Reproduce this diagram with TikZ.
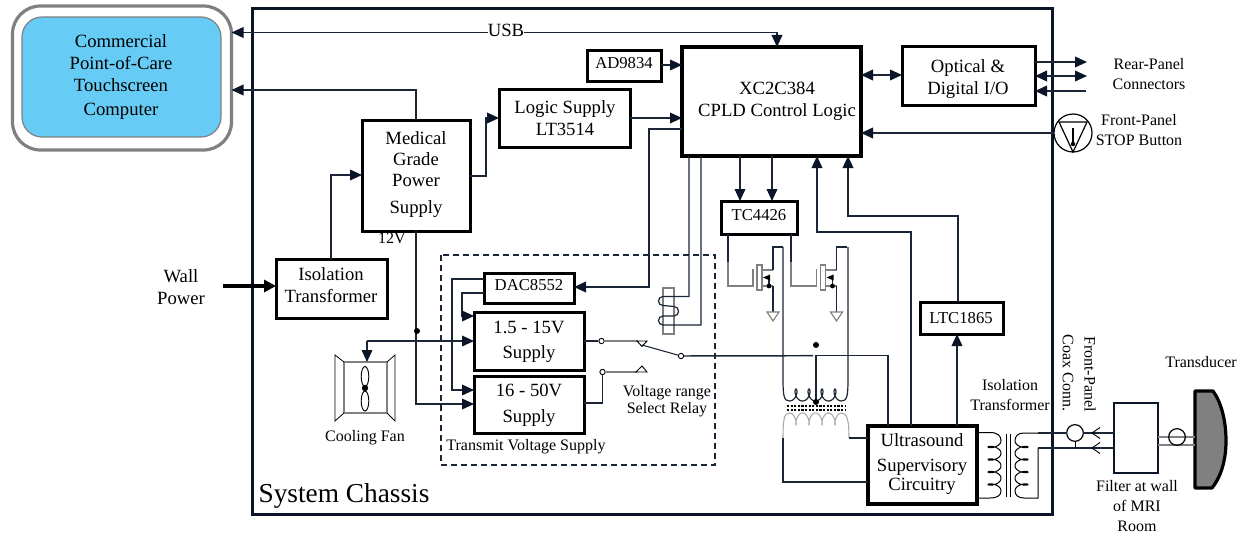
\documentclass[tikz,border=0pt]{standalone}
\usepackage{fontspec}
\setmainfont{Liberation Serif}
\usetikzlibrary{arrows.meta}
\definecolor{ln}{HTML}{1A2535}
\definecolor{dk}{HTML}{0A1628}
\definecolor{gy}{HTML}{808080}
\definecolor{lg}{HTML}{A8A8A8}
\definecolor{scr}{HTML}{66CCF5}
\tikzset{
  x=0.75pt,y=-0.75pt,
  conn/.style={draw=ln,line width=1.1pt,line join=miter},
  arr/.style={conn,-{Triangle[length=9pt,width=8pt,color=dk]}},
  arrs/.style={conn,{Triangle[length=9pt,width=8pt,color=dk]}-{Triangle[length=9pt,width=8pt,color=dk]}},
  gline/.style={draw=gy,line width=0.9pt},
  lline/.style={draw=lg,line width=0.8pt},
  box/.style={draw=black,fill=white,line width=2.25pt,inner sep=0pt,outer sep=0pt},
  bigbox/.style={box,line width=3pt},
  thinbox/.style={box,draw=dk,line width=2pt},
  big/.style={inner sep=0pt,align=center,font=\fontsize{14}{16.5}\selectfont},
  small/.style={inner sep=0pt,align=center,font=\fontsize{12}{15}\selectfont},
  chip/.style={inner sep=0pt,align=center,font=\fontsize{12.5}{15}\selectfont},
  dotm/.style={circle,fill=black,inner sep=0pt,minimum size=4.5pt},
  term/.style={circle,draw=black,fill=white,line width=0.7pt,inner sep=0pt,minimum size=4pt},
}
\newcommand\bx[6][box]{%
  \pgfmathsetmacro\bw{(#5-#3)*0.75}%
  \pgfmathsetmacro\bh{(#6-#4)*0.75}%
  \node[#1,minimum width=\bw pt,minimum height=\bh pt] (#2) at ({(#3+#5)/2},{(#4+#6)/2}) {};}
\newcommand\fet[1]{%
  \begin{scope}[xshift=#1*0.75pt]
    \draw[gline] (753,269) -- (753,287);
    \draw[gline,fill=white] (757,265) rectangle (762,290);
    \draw[gline] (762,270) -- (773,270);
    \draw[conn] (773,270) -- (773,247) -- (783,247);
    \draw[gline] (762,286) -- (773,286);
    \draw[conn,line width=0.8pt] (769,286) -- (769,278);
    \fill[black] (763,277.5) -- (770,274.5) -- (770,280.5) -- cycle;
    \fill[black] (769,286) circle[radius=2.4];
    \draw[conn,line width=0.8pt] (773,286) -- (773,312);
    \draw[gline] (767,312) -- (779,312) -- (773,321) -- cycle;
  \end{scope}}
\begin{document}
\begin{tikzpicture}
\useasboundingbox (0,0) rectangle (1244,535);
% chassis and computer
\node[draw=dk,line width=2.25pt,inner sep=0pt,outer sep=0pt,minimum width=600pt,minimum height=378.75pt] (chassis) at (652,261.5) {};
\node[draw=gy,line width=2.4pt,rounded corners=21pt,inner sep=0pt,outer sep=0pt,minimum width=164.25pt,minimum height=108pt] (pc) at (122,78) {};
\node[draw=gy,fill=scr,line width=0.9pt,rounded corners=15pt,inner sep=0pt,outer sep=0pt,minimum width=149.25pt,minimum height=90pt] (screen) at (121.5,77) {};
\node[big] (screen-t) at (121,77) {Commercial\\Point-of-Care\\Touchscreen\\[1.5pt]Computer};
\node[inner sep=0pt,font=\fontsize{20.5}{24}\selectfont] (syst) at (344,496) {System Chassis};
% boxes
\bx{iso}{276}{259}{387}{318}
\bx{med}{362}{120}{470}{231}
\bx{logic}{499}{89}{630}{147}
\bx{ad}{587}{51}{661}{81}
\bx[bigbox]{cpld}{682}{47}{861}{156}
\bx{optic}{902}{47}{1035}{105}
\bx{tc}{721}{201}{797}{234}
\bx{dac}{484}{273}{574}{303}
\bx{lo}{474}{312}{584}{370}
\bx{hi}{474}{376}{584}{433}
\bx{ltc}{920}{302}{1003}{334}
\bx[bigbox]{us}{868}{426}{977}{504}
\bx[thinbox]{filt}{1114}{403}{1158}{473}
\node[big] (iso-t) at (331,285) {Isolation\\Transformer};
\node[big,font=\fontsize{14}{15.75}\selectfont] (med-t) at (416,174.5) {Medical\\Grade\\Power\\[4.5pt]Supply};
\node[big] (logic-t) at (565,118) {Logic Supply\\LT3514};
\node[chip] (ad-t) at (624,63) {AD9834};
\node[big] (cpld-t) at (777,101) {XC2C384\\CPLD Control Logic};
\node[big] (optic-t) at (968,79) {Optical \&\\Digital I/O};
\node[chip] (tc-t) at (759,215) {TC4426};
\node[chip] (dac-t) at (529,285) {DAC8552};
\node[big] (lo-t) at (529,342) {1.5 - 15V\\[2.3pt]Supply};
\node[big] (hi-t) at (529,405) {16 - 50V\\[3pt]Supply};
\node[chip] (ltc-t) at (961,318) {LTC1865};
\node[big] (us-t) at (922,464) {Ultrasound\\[2.5pt]Supervisory\\[-2pt]Circuitry};
% free labels
\node[big] (wall) at (181,287) {Wall\\Power};
\node[small] (rear) at (1149,74.5) {Rear-Panel\\Connectors};
\node[small] (stopt) at (1139,130.5) {Front-Panel\\STOP Button};
\node[small] (v12) at (392,238) {12V};
\node[small] (fant) at (365,438) {Cooling Fan};
\node[small] (tvs) at (526,447) {Transmit Voltage Supply};
\node[small] (vrs) at (667,401) {Voltage range\\[-2pt]Select Relay};
\node[small] (isot2) at (1010,395) {Isolation\\Transformer};
\node[small] (filtt) at (1137,506) {Filter at wall\\of MRI\\Room};
\node[small] (trt) at (1201,362) {Transducer};
\node[small,rotate=-90] (fp) at (1090,374) {Front-Panel};
\node[small,rotate=-90] (coax) at (1068,373) {Coax Conn.};
\node[inner sep=0pt,font=\fontsize{14}{16}\selectfont] (usb) at (506,30) {USB};
% dashed group
\draw[draw=ln,line width=0.9pt,dash pattern=on 4.5pt off 3pt] (441,255) rectangle (715,465);
% connections top
\draw[arr] (usb.west |- 0,32.5) -- (pc.east |- 0,32.5);
\draw[conn] (usb.east |- 0,32.5) -- (777,32.5);
\coordinate (usbdrop) at (777,32.5);
\draw[arr] (usbdrop) -- (usbdrop |- cpld.north);
\draw[arr] (med.north -| 416,0) -- (416,90) -- (pc.east |- 0,90);
\draw[arr] (iso.north -| 331,0) -- (331,175) -- (med.west |- 0,175);
\draw[arr] (med.east |- 0,176) -- (486,176) -- (486,118) -- (logic.west |- 0,118);
\draw[arr] (logic.east |- 0,118) -- (cpld.west |- 0,118);
\draw[arr] (ad.east |- 0,65) -- (cpld.west |- 0,65);
\draw[arrs] (cpld.east |- 0,75) -- (optic.west |- 0,75);
\coordinate (rp1) at (1087,62);
\coordinate (rp2) at (1087,76);
\coordinate (rp3) at (1086,91);
\draw[arr] (optic.east |- rp1) -- (rp1);
\draw[arrs] (optic.east |- rp2) -- (rp2);
\draw[arr] (rp3) -- (optic.east |- rp3);
\draw[arr] (cpld.south -| 740,0) -- (tc.north -| 740,0);
\draw[arr] (cpld.south -| 772,0) -- (tc.north -| 772,0);
\draw[arr] (cpld.west |- 0,129) -- (649,129) -- (649,287) -- (dac.east |- 0,287);
% stop button
\node[circle,draw=black,line width=0.9pt,inner sep=0pt,outer sep=0pt,minimum size=28.5pt] (stop) at (1073,133) {};
\draw[draw=black,line width=0.9pt] (1059,122) -- (1087,122) -- (1073,152) -- cycle;
\draw[draw=black,line width=0.9pt] (1073,128) -- (1073,143);
\fill[black] (1073,144) circle[radius=2.2];
\draw[arr] (stop.west) -- (cpld.east |- stop.west);
% supply lines
\draw[conn] (med.south -| 416,0) -- (416,331);
\draw[arr] (416,331) -- (416,404) -- (hi.west |- 0,404);
\node[dotm] (jn) at (417,331) {};
\coordinate (fanin) at (367,341);
\draw[arr] (fanin) -- (lo.west |- fanin);
\bx[draw=gy,line width=0.9pt,fill=white,inner sep=0pt,outer sep=0pt]{fan}{344}{362}{387}{413}
\draw[arr] (fanin) -- (fanin |- fan.north);
\draw[gline,draw=black,line width=0.6pt] (344,362) -- (335,355) -- (335,421) -- (344,413);
\draw[gline,draw=black,line width=0.6pt] (387,362) -- (395,355) -- (395,421) -- (387,413);
\draw[draw=black,line width=0.7pt] (365,376.5) ellipse[x radius=3.8,y radius=10];
\draw[draw=black,line width=0.7pt] (365,401) ellipse[x radius=3.8,y radius=10];
\fill[black] (365,388) circle[radius=3.2];
\draw[arr] (dac.west |- 0,279) -- (452,279) -- (452,390) -- (hi.west |- 0,390);
\draw[arr] (dac.west |- 0,293) -- (462,293) -- (462,316) -- (lo.west |- 0,316);
% relay
\node[term] (c1) at (601.5,341) {};
\node[term] (c2) at (602.5,372) {};
\node[term] (c3) at (681,356) {};
\draw[conn,line width=0.9pt] (lo.east |- c1) -- (c1);
\draw[gline] (c1) -- (638,341);
\draw[conn,line width=0.9pt] (hi.east |- 0,403) -- (602.5,403) -- (c2);
\draw[gline] (c2) -- (637,372);
\draw[draw=black,line width=0.7pt] (637,341) -- (647,341) -- (642,346.5) -- cycle;
\draw[draw=black,line width=0.7pt] (636,372) -- (647,372) -- (642,366) -- cycle;
\draw[conn,line width=0.8pt] (642,345) -- (c3);
\draw[gline,fill=white] (663,288) rectangle (674,334);
\draw[conn,line width=0.9pt] (cpld.south -| 689,0) -- (689,296.5) -- (663,296.5) .. controls (657,296.5) and (657,305.5) .. (663,305.5) -- (674,306.5) .. controls (680,306.5) and (680,316) .. (674,316) -- (663,316) .. controls (657,316) and (657,325) .. (663,325) -- (701,325) -- (cpld.south -| 701,0);
% mosfets
\fet{0}
\fet{63.5}
\draw[gline] (tc.south -| 728,0) -- (728,286) -- (753,286);
\draw[gline] (tc.south -| 791,0) -- (791,286) -- (816.5,286);
\draw[conn] (tc.south -| 728,0) -- (728,262);
\draw[conn] (tc.south -| 791,0) -- (791,262);
% output transformer
\draw[conn,line width=0.9pt] (783,247) -- (783,379) .. controls (783,396) and (784,401) .. (789.5,401)
  -- plot[domain=180:1620,samples=120,variable=\t] ({783+\t/360*13-3.6*sin(\t)},{401-12*(1+cos(\t))/2})
  .. controls (847,401) and (848,396) .. (848,379) -- (848,247);
\draw[lline] (783,438) .. controls (783,420) and (784,413) .. (789.5,413)
  -- plot[domain=180:1620,samples=120,variable=\t] ({783+\t/360*13-2.6*sin(\t)},{413+12*(1+cos(\t))/2})
  .. controls (847,413) and (849,420) .. (849,438);
\draw[black,line width=0.8pt,dash pattern=on 1.6pt off 1.1pt] (787,406) -- (846,406);
\draw[black,line width=0.8pt,dash pattern=on 1.6pt off 1.1pt] (787,410) -- (846,410);
\draw[conn] (783,438) -- (783,482) -- (us.west |- 0,482);
\draw[conn] (849,438) -- (us.west |- 0,438);
\draw[conn] (c3) -- (813,355.7);
\draw[conn] (816,402) -- (816,355.7) -- (888,355.7) -- (us.north -| 888,0);
\fill[black] (816,402) circle[radius=3];
\node[dotm] (tapdot) at (816,345) {};
% feedback
\draw[arr] (us.north -| 911,0) -- (911,232) -- (817,232) -- (cpld.south -| 817,0);
\draw[arr] (ltc.north -| 958,0) -- (958,216) -- (848,216) -- (cpld.south -| 848,0);
\draw[arr] (us.north -| 957,0) -- (ltc.south -| 957,0);
% output transformer right
\draw[conn,line width=0.75pt,draw=black] (us.east |- 0,432.5) -- (990,432.5) .. controls (998,432.5) and (1001,436) .. (1001,440.75)
  -- plot[domain=180:1620,samples=120,variable=\t] ({1001-13*(1+cos(\t))/2},{434.5+\t/360*12.5-3.2*sin(\t)})
  .. controls (1001,495) and (998,498) .. (990,498) -- (us.east |- 0,498);
\draw[conn,line width=0.75pt,draw=black] (1038,433) -- (1024,433) .. controls (1018,433) and (1015,436) .. (1015,440.75)
  -- plot[domain=180:1620,samples=120,variable=\t] ({1015+13*(1+cos(\t))/2},{434.5+\t/360*12.5-3.2*sin(\t)})
  .. controls (1015,495) and (1018,498) .. (1024,498) -- (1038,498) -- (1038,448);
\draw[draw=black,line width=0.7pt] (1006,434) -- (1006,497);
\draw[draw=black,line width=0.7pt] (1010,434) -- (1010,497);
% coax
\node[circle,draw=black,line width=0.9pt,inner sep=0pt,outer sep=0pt,minimum size=12.5pt] (coaxc) at (1075,433) {};
\draw[conn] (1038,433) -- (coaxc.west);
\draw[conn] (coaxc.east) -- (filt.west |- coaxc.east);
\draw[conn] (1038,448) -- (filt.west |- 0,448);
\draw[draw=black,line width=0.7pt] (coaxc.south) -- (1075,448);
\draw[draw=black,line width=0.7pt] (1100,427.5) -- (1092,433) -- (1100,438.5);
\draw[draw=black,line width=0.7pt] (1100,442.5) -- (1092,448) -- (1100,453.5);
% transducer
\draw[draw=black,fill=gy,line width=2.4pt,line join=round] (1195,391) -- (1213,391) .. controls (1221,402) and (1226,420) .. (1226,441) .. controls (1226,462) and (1220,478) .. (1212,488) -- (1195,488) -- cycle;
\coordinate (tr1) at (1195,437);
\coordinate (tr2) at (1195,445);
\draw[gline] (filt.east |- tr1) -- (tr1);
\draw[gline] (filt.east |- tr2) -- (tr2);
\node[circle,draw=black,line width=0.9pt,inner sep=0pt,outer sep=0pt,minimum size=12.5pt] (coaxd) at (1177,437) {};
% wall power
\coordinate (wallin) at (223,286);
\draw[draw=black,line width=2.6pt,-{Triangle[length=9pt,width=9pt]}] (wallin) -- (iso.west |- wallin);
\end{tikzpicture}
\end{document}
